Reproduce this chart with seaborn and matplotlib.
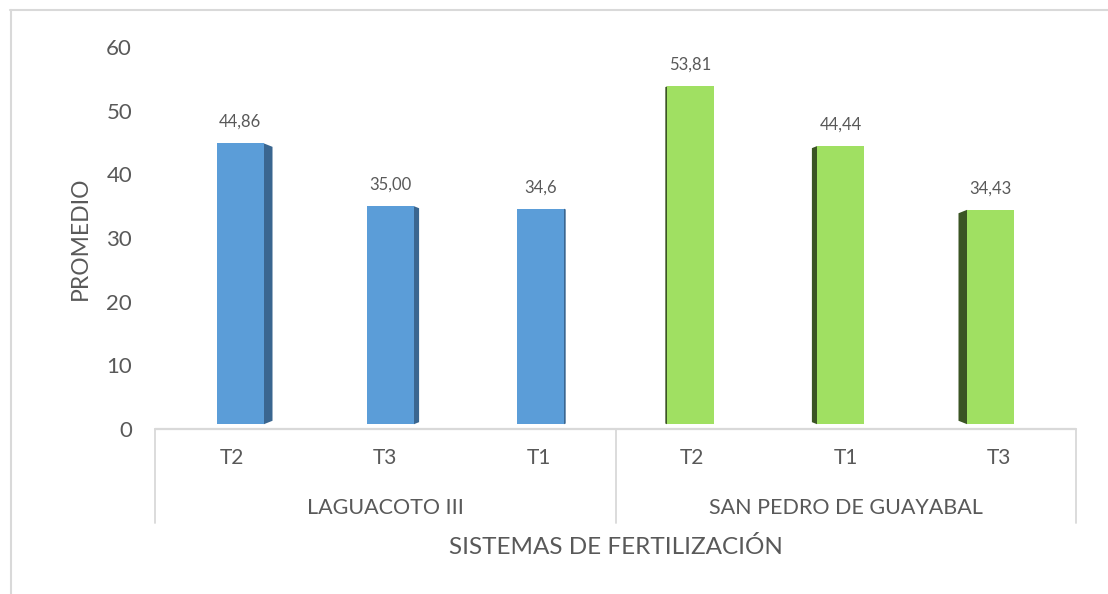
import matplotlib
matplotlib.use("Agg")
import matplotlib.pyplot as plt
from matplotlib.patches import Polygon
from matplotlib.lines import Line2D
import seaborn as sns
import pandas as pd

# ---- data ----
groups = ["LAGUACOTO III", "LAGUACOTO III", "LAGUACOTO III",
          "SAN PEDRO DE GUAYABAL", "SAN PEDRO DE GUAYABAL", "SAN PEDRO DE GUAYABAL"]
treatments = ["T2", "T3", "T1", "T2", "T1", "T3"]
values = [44.86, 35.00, 34.6, 53.81, 44.44, 34.43]
value_labels = ["44,86", "35,00", "34,6", "53,81", "44,44", "34,43"]
group_names = ["LAGUACOTO III", "SAN PEDRO DE GUAYABAL"]
y_ticks = [0, 10, 20, 30, 40, 50, 60]
y_title = "PROMEDIO"
x_title = "SISTEMAS DE FERTILIZACIÓN"

front_colors = {"LAGUACOTO III": "#5B9DD8", "SAN PEDRO DE GUAYABAL": "#A0E062"}
side_colors = {"LAGUACOTO III": "#3A6690", "SAN PEDRO DE GUAYABAL": "#3B5524"}

keys = [f"{g}|{t}" for g, t in zip(groups, treatments)]
df = pd.DataFrame({"key": keys, "grupo": groups, "valor": values})

sns.set_theme(style="white")
plt.rcParams["font.family"] = ["Lato", "DejaVu Sans"]
TXT = "#595959"
GRID = "#D9D9D9"

W, H = 1108, 594
fig = plt.figure(figsize=(W / 100, H / 100), dpi=100)
# axes placement in pixels: left 155, right 1076, y=0 at 429, y=60 at 47
ax = fig.add_axes([155 / W, (H - 429) / H, 921 / W, 382 / H])

bar_w = 0.306
sns.barplot(data=df, x="key", y="valor", hue="grupo", order=keys,
            palette=front_colors, dodge=False, width=bar_w, legend=False,
            saturation=1, ax=ax, linewidth=0)

ax.set_xlim(-0.5, 5.5)
ax.set_ylim(0, 60)

k = 0.0225          # perspective factor (category units)
px_cat = 921 / 6    # pixels per category
px_unit = 382 / 60  # pixels per y unit
gap = 0.75          # small floor gap

for p in list(ax.patches):
    cx = p.get_x() + p.get_width() / 2
    i = int(round(cx))
    v = values[i]
    g = groups[i]
    d = 2.5 - i
    shift = d * k
    new_x = i + shift - bar_w / 2
    p.set_x(new_x)
    p.set_y(gap)
    p.set_height(v - gap)
    sw = abs(d) * k
    slant = 0.4 * sw * px_cat / px_unit
    top, bot = v, gap
    if d > 0:
        xe = new_x + bar_w
        pts = [(xe, top), (xe + sw, top - slant), (xe + sw, bot + slant), (xe, bot)]
    else:
        xe = new_x
        pts = [(xe, top), (xe - sw, top - slant), (xe - sw, bot + slant), (xe, bot)]
    ax.add_patch(Polygon(pts, closed=True, facecolor=side_colors[g],
                         edgecolor="none", zorder=p.get_zorder() - 0.1))
    ax.annotate(value_labels[i], (i + shift, v), xytext=(0, 15.5),
                textcoords="offset points", ha="center", va="center",
                fontsize=12, color=TXT)

# axes styling
for s in ax.spines.values():
    s.set_visible(False)
ax.set_yticks(y_ticks)
ax.set_yticklabels([str(t) for t in y_ticks])
ax.tick_params(axis="y", length=0, pad=16.5, labelsize=16, labelcolor=TXT)
ax.set_xticks(range(len(treatments)))
ax.set_xticklabels(treatments)
ax.tick_params(axis="x", length=0, pad=14, labelsize=15, labelcolor=TXT)
ax.grid(False)

# baseline
ax.axhline(0, color=GRID, lw=1.6, zorder=5, clip_on=False)
# group separators
tr = ax.get_xaxis_transform()
for xs in [-0.5, 2.5, 5.5]:
    ax.add_line(Line2D([xs, xs], [0, -94 / 382], transform=tr, color=GRID,
                       lw=1.3, clip_on=False))
# group labels
for gi, gname in enumerate(group_names):
    ax.text(1 + 3 * gi, -79 / 382, gname, transform=tr, ha="center",
            va="center", fontsize=15.5, color=TXT)

ax.set_xlabel(x_title, fontsize=17.5, color=TXT)
ax.xaxis.set_label_coords(0.5, -118 / 382)
ax.xaxis.label.set_va("center")
ax.set_ylabel(y_title, fontsize=16.5, color=TXT)
ax.yaxis.set_label_coords(-75 / 921, 0.5)
ax.yaxis.label.set_va("center")

# outer border (top and left visible)
fig.add_artist(Line2D([10 / W, 1.0], [1 - 10 / H, 1 - 10 / H], color=GRID, lw=1.5,
                      transform=fig.transFigure))
fig.add_artist(Line2D([11 / W, 11 / W], [0, 1 - 10 / H], color=GRID, lw=1.5,
                      transform=fig.transFigure))

fig.savefig("out.png", dpi=100)
